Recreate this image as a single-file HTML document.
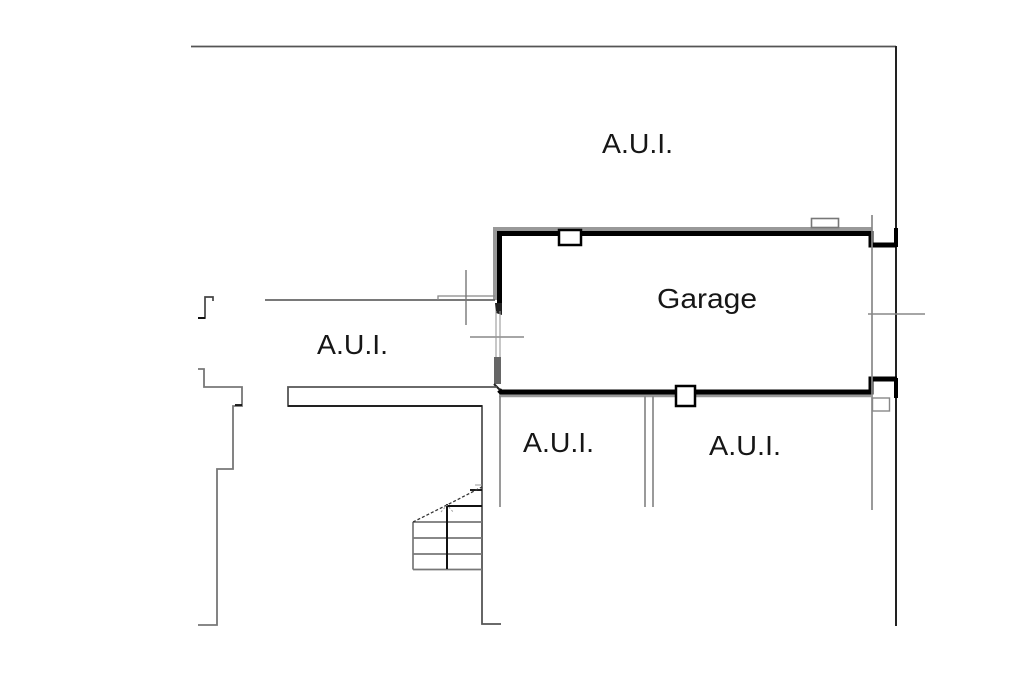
<!DOCTYPE html>
<html>
<head>
<meta charset="utf-8">
<style>
html,body{margin:0;padding:0;background:#fff;}
svg{display:block;}
text{font-family:"Liberation Sans",Arial,sans-serif;fill:#161616;}
</style>
</head>
<body>
<svg width="1024" height="683" viewBox="0 0 1024 683" xmlns="http://www.w3.org/2000/svg">
<rect width="1024" height="683" fill="#fff"/>

<!-- outer boundary -->
<path d="M191 46.5 H896" stroke="#555" stroke-width="1.8" fill="none"/>
<path d="M896 46 V626" stroke="#222" stroke-width="2" fill="none"/>

<!-- gray outer bands around garage -->
<path d="M495 300 V229 H872" stroke="#999" stroke-width="4" fill="none"/>
<path d="M499 395.5 H871" stroke="#999" stroke-width="3.5" fill="none"/>

<!-- garage black walls -->
<path d="M499.5 311 V233.5 H871 V245 H896" stroke="#000" stroke-width="5" fill="none" stroke-linejoin="miter"/>
<path d="M499 390 L501 392 H871 V379 H897" stroke="#000" stroke-width="5" fill="none"/>
<polygon points="495,303 502,303 502,315 496,313" fill="#222"/>
<path d="M896 228 V247" stroke="#000" stroke-width="4"/>
<path d="M896 378 V398" stroke="#000" stroke-width="4"/>

<!-- squares on walls -->
<rect x="559" y="230" width="22" height="15" fill="#fff" stroke="#000" stroke-width="2.5"/>
<rect x="811.5" y="218.5" width="27" height="9" fill="#fff" stroke="#777" stroke-width="1.6"/>
<rect x="676" y="386" width="19" height="20" fill="#fff" stroke="#000" stroke-width="2.5"/>

<!-- right side details -->
<path d="M872 215 V510" stroke="#888" stroke-width="1.7"/>
<rect x="872.5" y="398" width="17" height="13" fill="none" stroke="#888" stroke-width="1.4"/>
<path d="M868 314 H925" stroke="#888" stroke-width="1.4"/>

<!-- left of garage: corridor lines -->
<path d="M265 300 H495" stroke="#666" stroke-width="1.7" fill="none"/>
<path d="M438 300 V296 H495" stroke="#888" stroke-width="1.3" fill="none"/>
<path d="M466 270 V325" stroke="#777" stroke-width="1.4"/>
<path d="M470 337 H524" stroke="#888" stroke-width="1.4"/>
<path d="M496 311 V358 M500 311 V358" stroke="#999" stroke-width="1.1"/>
<rect x="494" y="357" width="7" height="27" fill="#666"/>
<path d="M494 384 L500 390" stroke="#222" stroke-width="2"/>

<!-- slab / wall below corridor -->
<path d="M497 387 H288 V406 H482 V624 H501" stroke="#555" stroke-width="1.8" fill="none"/>
<path d="M288 406 H482" stroke="#222" stroke-width="2"/>

<!-- left outline -->
<path d="M198 318 H205 V297 H213 V301" stroke="#444" stroke-width="1.7" fill="none"/>
<path d="M198 318 H205" stroke="#111" stroke-width="2"/>
<path d="M198 369 H204 V387 H242 V406 H233 V469 H217 V625 H198" stroke="#777" stroke-width="1.8" fill="none"/>
<path d="M242 405 H235" stroke="#111" stroke-width="1.8"/>

<!-- partitions below garage -->
<path d="M500 396 V507" stroke="#888" stroke-width="1.7"/>
<path d="M645 396 V507 M653 396 V507" stroke="#888" stroke-width="1.7"/>

<!-- stairs -->
<path d="M413 522 H482 M413 538 H482 M413 554 H482 M413 569.5 H482 M413 522 V569.5" stroke="#777" stroke-width="1.7" fill="none"/>
<path d="M447 504 V569" stroke="#111" stroke-width="2"/>
<path d="M447 506 H482" stroke="#111" stroke-width="1.9"/>
<path d="M470 490 H482" stroke="#111" stroke-width="1.9"/>
<path d="M475 485 H482" stroke="#999" stroke-width="1"/>
<path d="M413 522 L447 505 L482 487" stroke="#333" stroke-width="1.3" stroke-dasharray="3,2" fill="none"/>
<path d="M441 512 L447 505 L454 513" stroke="#999" stroke-width="1" stroke-dasharray="2,2" fill="none"/>

<!-- labels -->
<text x="602" y="153" font-size="28" textLength="71" lengthAdjust="spacingAndGlyphs">A.U.I.</text>
<text x="657" y="308" font-size="28" textLength="100" lengthAdjust="spacingAndGlyphs">Garage</text>
<text x="317" y="354" font-size="28" textLength="71" lengthAdjust="spacingAndGlyphs">A.U.I.</text>
<text x="523" y="452" font-size="28" textLength="71" lengthAdjust="spacingAndGlyphs">A.U.I.</text>
<text x="709" y="455" font-size="28" textLength="72" lengthAdjust="spacingAndGlyphs">A.U.I.</text>
</svg>
</body>
</html>
